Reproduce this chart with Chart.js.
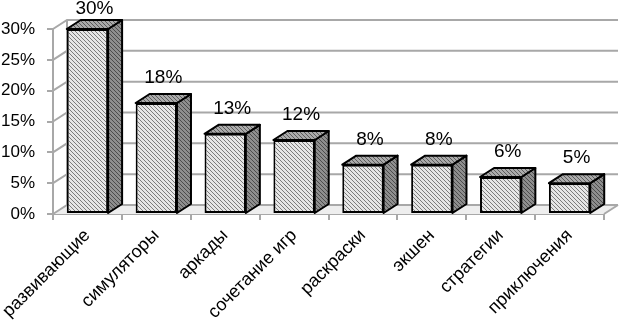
<!DOCTYPE html>
<html lang="ru">
<head>
  <meta charset="UTF-8">
  <title>Жанры игр</title>
  <script src="https://cdn.jsdelivr.net/npm/chart.js@4.4.0/dist/chart.umd.min.js"></script>
  <style>
    html, body { margin: 0; padding: 0; background: #fff; }
    #wrap { width: 624px; height: 330px; }
  </style>
</head>
<body>
  <div id="wrap"><canvas id="genresChart" width="624" height="330"></canvas></div>
  <script>
    const categories = ["развивающие", "симуляторы", "аркады", "сочетание игр", "раскраски", "экшен", "стратегии", "приключения"];
    const shares = [30, 18, 13, 12, 8, 8, 6, 5];
    const yTicks = [0, 5, 10, 15, 20, 25, 30];

    // 3d depth offset of the box
    const DX = 14, DY = 9;
    const FONT = "'Liberation Sans', Arial, sans-serif";

    function hatch(bg, fg) {
      const c = document.createElement("canvas");
      c.width = 4; c.height = 4;
      const g = c.getContext("2d");
      g.fillStyle = bg;
      g.fillRect(0, 0, 4, 4);
      g.fillStyle = fg;
      for (let i = 0; i < 4; i++) g.fillRect(i, i, 1, 1);
      return g.createPattern(c, "repeat");
    }
    const frontFill = hatch("#e6e6e6", "#7c7c7c");
    const sideFill = hatch("#8e8e8e", "#4c4c4c");
    const topFill = hatch("#ababab", "#5c5c5c");

    const walls = {
      id: "walls",
      beforeDatasetsDraw(chart) {
        const { ctx, chartArea: a, scales: { y } } = chart;
        const y0 = y.getPixelForValue(0), yMax = y.getPixelForValue(30);
        ctx.save();
        // floor
        ctx.fillStyle = "#eeeeee";
        ctx.beginPath();
        ctx.moveTo(a.left, y0);
        ctx.lineTo(a.right, y0);
        ctx.lineTo(a.right + DX, y0 - DY);
        ctx.lineTo(a.left + DX, y0 - DY);
        ctx.closePath();
        ctx.fill();
        ctx.strokeStyle = "#a8a8a8";
        ctx.lineWidth = 2;
        // back wall grid + side wall diagonals
        yTicks.forEach(v => {
          const py = y.getPixelForValue(v);
          ctx.beginPath();
          ctx.moveTo(a.left, py);
          ctx.lineTo(a.left + DX, py - DY);
          ctx.lineTo(a.right + DX, py - DY);
          ctx.stroke();
        });
        ctx.beginPath();
        ctx.moveTo(a.left + DX, y0 - DY);
        ctx.lineTo(a.left + DX, yMax - DY);
        ctx.moveTo(a.right, y0);
        ctx.lineTo(a.right + DX, y0 - DY);
        ctx.stroke();
        ctx.restore();
      }
    };

    const boxes = {
      id: "boxes",
      afterDatasetsDraw(chart) {
        const ctx = chart.ctx;
        const meta = chart.getDatasetMeta(0);
        ctx.save();
        ctx.lineWidth = 2;
        ctx.strokeStyle = "#000";
        ctx.lineJoin = "round";
        meta.data.forEach((bar, i) => {
          const l = bar.x - bar.width / 2, r = bar.x + bar.width / 2;
          const t = bar.y, b = bar.base;
          ctx.beginPath();
          ctx.moveTo(r, t);
          ctx.lineTo(r + DX, t - DY);
          ctx.lineTo(r + DX, b - DY);
          ctx.lineTo(r, b);
          ctx.closePath();
          ctx.fillStyle = sideFill;
          ctx.fill();
          ctx.stroke();
          ctx.beginPath();
          ctx.moveTo(l, t);
          ctx.lineTo(l + DX, t - DY);
          ctx.lineTo(r + DX, t - DY);
          ctx.lineTo(r, t);
          ctx.closePath();
          ctx.fillStyle = topFill;
          ctx.fill();
          ctx.stroke();
          // value label
          ctx.fillStyle = "#000";
          ctx.font = "19px " + FONT;
          ctx.textAlign = "center";
          ctx.textBaseline = "alphabetic";
          const ly = Math.max(14, t - DY - 11);
          ctx.fillText(shares[i] + "%", bar.x + DX / 2, ly);
        });
        ctx.restore();
      }
    };

    new Chart(document.getElementById("genresChart"), {
      type: "bar",
      data: {
        labels: categories,
        datasets: [{
          data: shares,
          backgroundColor: frontFill,
          borderColor: "#000",
          borderWidth: 2,
          borderSkipped: false,
          barPercentage: 0.6,
          categoryPercentage: 1
        }]
      },
      options: {
        responsive: false,
        animation: false,
        layout: { padding: { top: 29, right: 20, left: 0, bottom: 0 } },
        plugins: { legend: { display: false }, tooltip: { enabled: false } },
        scales: {
          x: {
            grid: { offset: true, drawOnChartArea: false, tickLength: 6, color: "#a8a8a8", lineWidth: 2 },
            border: { color: "#a8a8a8", width: 2 },
            ticks: {
              autoSkip: false, minRotation: 45, maxRotation: 45, padding: 5,
              color: "#000", font: { family: FONT, size: 18 }
            },
            afterFit(s) { s.height = 116; s.paddingLeft = 0; s.paddingRight = 0; }
          },
          y: {
            min: 0, max: 30,
            grid: { drawOnChartArea: false, tickLength: 6, color: "#a8a8a8", lineWidth: 2 },
            border: { color: "#a8a8a8", width: 2 },
            ticks: {
              stepSize: 5, padding: 12, color: "#000",
              font: { family: FONT, size: 17 },
              callback: v => v + "%"
            },
            afterFit(s) { s.width = 53; }
          }
        }
      },
      plugins: [walls, boxes]
    });
  </script>
</body>
</html>
